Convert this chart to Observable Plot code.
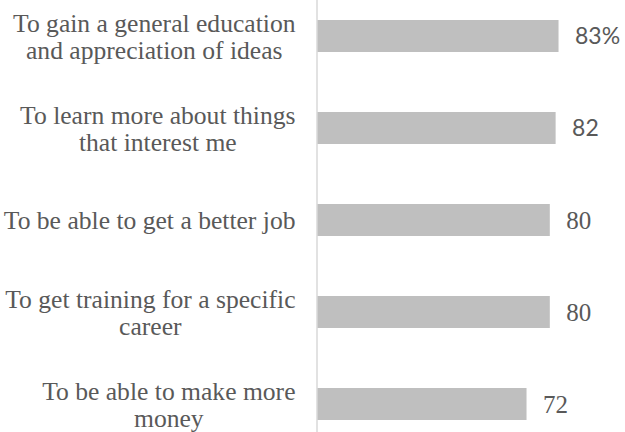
<!DOCTYPE html>
<html>
<head>
<meta charset="utf-8">
<script src="https://cdn.jsdelivr.net/npm/d3@7"></script>
<script src="https://cdn.jsdelivr.net/npm/@observablehq/plot@0.6"></script>
<style>
  html, body { margin: 0; padding: 0; background: #ffffff; }
  #chart svg { display: block; }
</style>
</head>
<body>
<div id="chart"></div>
<script>
// ---- Data ----
const categories = [
  "To gain a general education\nand appreciation of ideas",
  "To learn more about things\nthat interest me",
  "To be able to get a better job",
  "To get training for a specific\ncareer",
  "To be able to make more\nmoney"
];
const values = [83, 82, 80, 80, 72];
const valueLabels = ["83%", "82", "80", "80", "72"];

// ---- Styling config ----
const W = 625, H = 432;
const X0 = 317;            // pixel of the zero baseline
const LABEL_RIGHT = 295;   // right edge of category label blocks
const LABEL_SIZE = 25.6;
const serif = "'Liberation Serif', 'Times New Roman', serif";
const sans = "Lato, 'Open Sans', sans-serif";
const textColor = "#595959";
const sansValueIdx = [0, 1];

const rows = categories.map((c, i) => ({category: c, value: values[i], label: valueLabels[i], i}));

const ctx = document.createElement("canvas").getContext("2d");
ctx.font = `${LABEL_SIZE}px 'Liberation Serif'`;

const categoryMarks = rows.map(d => {
  const w = d3.max(d.category.split("\n"), s => ctx.measureText(s).width);
  return Plot.text([d], {
    x: () => 0, y: "category", text: "category",
    textAnchor: "middle", lineAnchor: "middle", lineHeight: 27 / LABEL_SIZE,
    dx: -(X0 - LABEL_RIGHT) - w / 2,
    fontFamily: serif, fontSize: LABEL_SIZE, fill: textColor
  });
});

const chart = Plot.plot({
  width: W,
  height: H,
  marginTop: 0, marginBottom: 0, marginLeft: 0, marginRight: 0,
  x: {domain: [0, 100], range: [X0, X0 + 291], axis: null},
  y: {domain: categories, range: [-10, 450], padding: 0, axis: null},
  style: {background: "#ffffff"},
  marks: [
    Plot.barX(rows, {x: "value", y: "category", fill: "#bfbfbf", insetTop: 30, insetBottom: 30}),
    Plot.ruleX([0], {stroke: "#d9d9d9", strokeWidth: 1.5, dx: -0.5}),
    ...categoryMarks,
    Plot.text(rows.filter(d => sansValueIdx.includes(d.i)), {
      x: "value", y: "category", text: "label", textAnchor: "start", lineAnchor: "middle",
      dx: 16, fontFamily: sans, fontSize: 23, fill: textColor
    }),
    Plot.text(rows.filter(d => !sansValueIdx.includes(d.i)), {
      x: "value", y: "category", text: "label", textAnchor: "start", lineAnchor: "middle",
      dx: 16, fontFamily: serif, fontSize: 25, fill: textColor
    })
  ]
});
document.getElementById("chart").append(chart);
</script>
</body>
</html>
